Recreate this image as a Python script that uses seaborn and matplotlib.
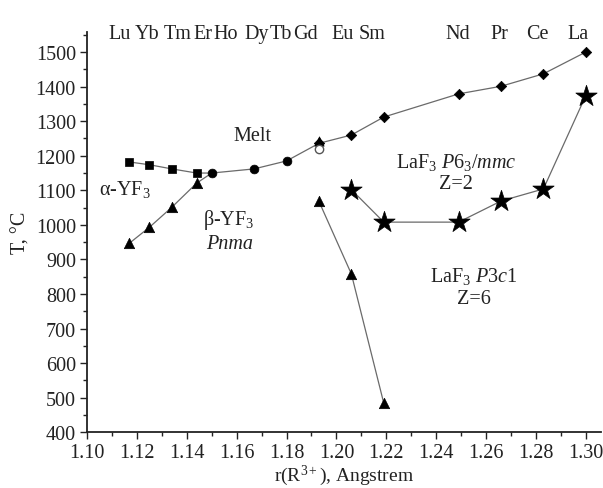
import matplotlib
matplotlib.use("Agg")
import matplotlib.pyplot as plt
import seaborn as sns
from matplotlib.ticker import MultipleLocator

sns.set_style("ticks")
plt.rcParams['font.family'] = ['Liberation Serif', 'DejaVu Serif']
plt.rcParams['mathtext.fontset'] = 'custom'
plt.rcParams['mathtext.rm'] = 'Liberation Serif'
plt.rcParams['mathtext.it'] = 'Liberation Serif:italic'

# alpha-YF3 / beta-YF3 boundary (squares), Lu..Er
sq_r = [1.117, 1.125, 1.134, 1.144]
sq_t = [1182, 1174, 1162, 1150]
# melting curve: circles Ho..Tb
circ_r = [1.150, 1.167, 1.180]
circ_t = [1150, 1162, 1185]
# melting curve: diamonds Gd..La
dia_r = [1.193, 1.206, 1.219, 1.249, 1.266, 1.283, 1.300]
dia_t = [1236, 1260, 1312, 1379, 1401, 1437, 1500]
# open circle at Gd
open_r = [1.193]
open_t = [1220]
# beta-YF3 lower boundary (triangles) Lu..Er
tri1_r = [1.117, 1.125, 1.134, 1.144]
tri1_t = [947, 993, 1051, 1121]
# triangles Gd..Sm
tri2_r = [1.193, 1.206, 1.219]
tri2_t = [1068, 858, 484]
# Gd triangle atop melt point
gdtri_r = [1.193]
gdtri_t = [1242]
# LaF3 P63/mmc - P3c1 transition (stars)
star_r = [1.206, 1.219, 1.249, 1.266, 1.283, 1.300]
star_t = [1102, 1008, 1008, 1069, 1104, 1374]

elements = ["Lu", "Yb", "Tm", "Er", "Ho", "Dy", "Tb", "Gd", "Eu", "Sm", "Nd", "Pr", "Ce", "La"]
elem_pos = [1.113, 1.124, 1.1364, 1.1464, 1.1556, 1.168, 1.1776, 1.1876, 1.2024, 1.2144,
            1.2488, 1.2652, 1.2804, 1.2968]

fig = plt.figure(figsize=(6.03, 4.89), dpi=100)
ax = fig.add_axes([0.1443, 0.1139, 0.852, 0.8186])

lc = "#6a6a6a"
lw = 0.9

def line(xs, ys):
    sns.lineplot(x=xs, y=ys, ax=ax, sort=False, estimator=None, color=lc, lw=lw, zorder=1)

def pts(xs, ys, marker, size):
    sns.scatterplot(x=xs, y=ys, ax=ax, marker=marker, s=size, color="black",
                    edgecolor="black", linewidth=0.5, zorder=3)

# lines
line(sq_r, sq_t)
line([sq_r[-1]] + circ_r + dia_r, [sq_t[-1]] + circ_t + dia_t)
line(tri1_r + [circ_r[0]], tri1_t + [circ_t[0]])
line(tri2_r, tri2_t)
line(star_r, star_t)

# markers
pts(sq_r, sq_t, "s", 28)
pts(circ_r, circ_t, "o", 40)
pts(dia_r, dia_t, "D", 28)
pts(gdtri_r, gdtri_t, "^", 45)
sns.scatterplot(x=open_r, y=open_t, ax=ax, marker="o", s=36, facecolor="white",
                edgecolor="#555555", linewidth=1.0, zorder=3)
pts(tri1_r, tri1_t, "^", 56)
pts(tri2_r, tri2_t, "^", 56)
pts(star_r, star_t, "*", 260)

ax.set_xlim(1.10, 1.306)
ax.set_ylim(400, 1558)
ax.xaxis.set_minor_locator(MultipleLocator(0.01))
ax.yaxis.set_minor_locator(MultipleLocator(50))
ax.set_xticks([1.10 + 0.02 * i for i in range(11)])
ax.set_xticklabels([f"{1.10 + 0.02 * i:.2f}" for i in range(11)])
ax.set_yticks(list(range(400, 1501, 100)))
ax.tick_params(axis="both", which="major", labelsize=14.5, length=5, width=1, direction="out",
               colors="#222222", pad=3)
ax.tick_params(axis="both", which="minor", length=3, width=1, direction="out", colors="#222222")
for s in ["top", "right"]:
    ax.spines[s].set_visible(False)
for s in ["left", "bottom"]:
    ax.spines[s].set_linewidth(1.3)
    ax.spines[s].set_color("#222222")

ax.set_xlabel(r"r(R$^{3+}$), Angstrem", fontsize=14, color="#222222", labelpad=0)
ax.set_ylabel("T, °C", fontsize=14.5, color="#222222", labelpad=4)

for e, p in zip(elements, elem_pos):
    ax.text(p, 1553, e, ha="center", va="center", fontsize=14.5, color="#222222", clip_on=False)

tc = "#222222"
ax.text(1.1665, 1258, "Melt", ha="center", va="center", fontsize=14.5, color=tc)
ax.text(1.115, 1105, "α-YF$_3$", ha="center", va="center", fontsize=14.5, color=tc)
ax.text(1.157, 1017, "β-YF$_3$", ha="center", va="center", fontsize=14.5, color=tc)
ax.text(1.157, 945, "Pnma", ha="center", va="center", fontsize=14.5, color=tc, style="italic")
ax.text(1.248, 1182, r"LaF$_3$ $P$6$_3$/$mmc$", ha="center", va="center", fontsize=14.5, color=tc)
ax.text(1.248, 1120, "Z=2", ha="center", va="center", fontsize=14.5, color=tc)
ax.text(1.255, 853, r"LaF$_3$ $P$3$c$1", ha="center", va="center", fontsize=14.5, color=tc)
ax.text(1.255, 786, "Z=6", ha="center", va="center", fontsize=14.5, color=tc)

fig.savefig("out.png", dpi=100)
